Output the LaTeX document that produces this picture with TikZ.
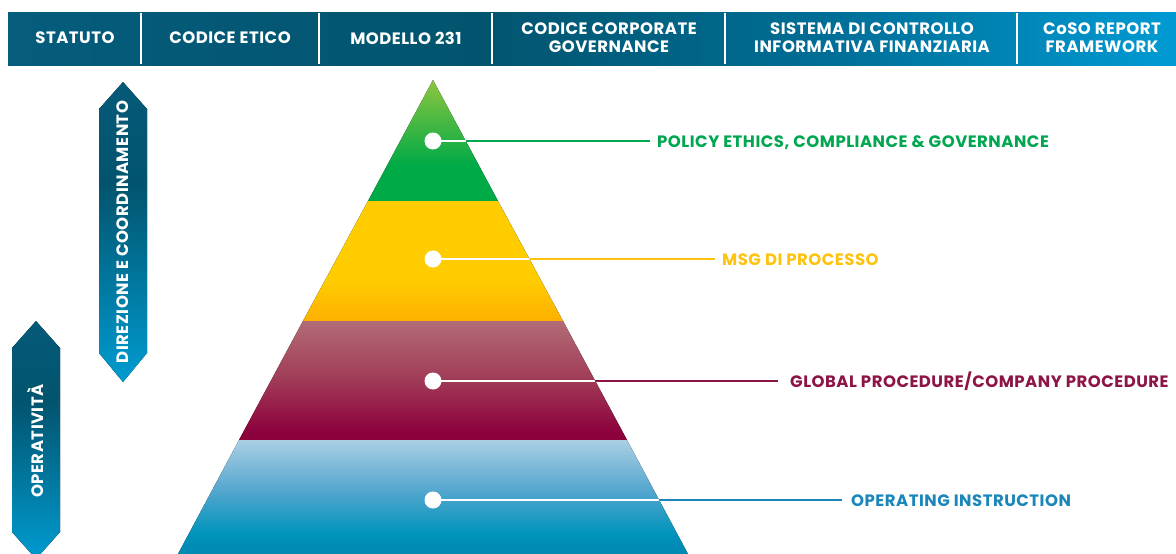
\documentclass[tikz,border=0pt]{standalone}
\usepackage{fontspec}
\setmainfont{Poppins}[LetterSpace=3]
\usetikzlibrary{positioning}

\definecolor{hdA}{RGB}{5,92,124}
\definecolor{hdB}{RGB}{2,84,110}
\definecolor{hdC}{RGB}{0,110,150}
\definecolor{hdD}{RGB}{0,155,212}
\definecolor{bnT}{RGB}{5,90,120}
\definecolor{bnM}{RGB}{2,84,110}
\definecolor{bnB}{RGB}{0,155,208}
\definecolor{grT}{RGB}{141,198,63}
\definecolor{grB}{RGB}{0,170,70}
\definecolor{yeT}{RGB}{255,204,0}
\definecolor{yeB}{RGB}{253,176,0}
\definecolor{mrT}{RGB}{178,108,118}
\definecolor{mrM}{RGB}{160,58,86}
\definecolor{mrB}{RGB}{140,0,60}
\definecolor{blT}{RGB}{170,207,227}
\definecolor{blM}{RGB}{80,165,205}
\definecolor{blB}{RGB}{0,148,188}
\definecolor{blD}{RGB}{0,138,180}
\definecolor{polgreen}{RGB}{0,166,80}
\definecolor{msgyellow}{RGB}{255,194,14}
\definecolor{procred}{RGB}{140,20,70}
\definecolor{opblue}{RGB}{26,134,186}

\pgfdeclarehorizontalshading{headbar}{100bp}{color(0bp)=(hdA); color(25bp)=(hdA); color(45bp)=(hdB); color(60bp)=(hdC); color(75bp)=(hdD); color(100bp)=(hdD)}
\pgfdeclareverticalshading{banner}{100bp}{color(0bp)=(bnB); color(25bp)=(bnB); color(58bp)=(bnM); color(75bp)=(bnT); color(100bp)=(bnT)}
\pgfdeclareverticalshading{greenband}{100bp}{color(0bp)=(grB); color(40bp)=(grB); color(75bp)=(grT); color(100bp)=(grT)}
\pgfdeclareverticalshading{yellowband}{100bp}{color(0bp)=(yeB); color(25bp)=(yeB); color(42bp)=(yeT); color(100bp)=(yeT)}
\pgfdeclareverticalshading{redband}{100bp}{color(0bp)=(mrB); color(28bp)=(mrB); color(50bp)=(mrM); color(75bp)=(mrT); color(100bp)=(mrT)}
\pgfdeclareverticalshading{blueband}{100bp}{color(0bp)=(blD); color(28bp)=(blD); color(34bp)=(blB); color(52bp)=(blM); color(75bp)=(blT); color(100bp)=(blT)}

\begin{document}
\begin{tikzpicture}[x=1pt, y=-1pt,
    hdtext/.style={text=white, font=\bfseries\fontsize{16.5}{18}\selectfont, align=center},
    bntext/.style={text=white, font=\bfseries\fontsize{16.5}{18}\selectfont, rotate=90},
    dot/.style={circle, fill=white, inner sep=0pt, minimum size=17pt},
    lvl/.style={anchor=west, font=\bfseries\fontsize{16.5}{18}\selectfont, inner xsep=0pt, text height=11.4pt, text depth=0pt},
    lead/.style={line width=1.8pt}]
  \useasboundingbox (0,0) rectangle (1176,554);
  \clip (0,0) rectangle (1176,554);

  % header
  \fill[shading=headbar] (8,12) rectangle (1180,65);
  \foreach \x in {141,319,492,725,1017}
    \draw[white, line width=2.6pt] (\x,13) -- (\x,64);
  \node[hdtext] (statuto) at (75,38) {STATUTO};
  \node[hdtext] (etico) at (230,38) {CODICE ETICO};
  \node[hdtext] (modello) at (406,38) {MODELLO 231};
  \node[hdtext] (corporate) at (609,38) {CODICE CORPORATE\\GOVERNANCE};
  \node[hdtext] (sistema) at (872,38) {SISTEMA DI CONTROLLO\\INFORMATIVA FINANZIARIA};
  \node[hdtext] (coso) at (1102,38) {CoSO REPORT\\FRAMEWORK};

  % side banners
  \fill[shading=banner] (123,82) -- (147,109) -- (147,353) -- (123,382) -- (99,353) -- (99,109) -- cycle;
  \node[bntext] (direzione) at (123,232) {DIREZIONE E COORDINAMENTO};
  \fill[shading=banner] (36,321) -- (60,348) -- (60,532) -- (36,559) -- (12,532) -- (12,348) -- cycle;
  \node[bntext] (operativita) at (36,441) {OPERATIVITÀ};

  % pyramid
  \fill[shading=greenband] (433,80) -- (498,201) -- (368,201) -- cycle;
  \fill[shading=yellowband] (368,201) -- (498,201) -- (563,321) -- (303,321) -- cycle;
  \fill[shading=redband] (303,321) -- (563,321) -- (627,440) -- (239,440) -- cycle;
  \fill[shading=blueband] (239,440) -- (627,440) -- (688,554) -- (178,554) -- cycle;

  \coordinate (p1) at (433,141);
  \coordinate (p2) at (433,259);
  \coordinate (p3) at (433,381);
  \coordinate (p4) at (433,500);

  \node[lvl, text=polgreen] (policy) at (657,142) {POLICY ETHICS, COMPLIANCE \& GOVERNANCE};
  \node[lvl, text=msgyellow] (msg) at (722,260) {MSG DI PROCESSO};
  \node[lvl, text=procred] (proc) at (790,382) {GLOBAL PROCEDURE/COMPANY PROCEDURE};
  \node[lvl, text=opblue] (instr) at (851,501) {OPERATING INSTRUCTION};

  \draw[lead, polgreen] (p1) -- ([xshift=-7pt]policy.west |- p1);
  \draw[lead, msgyellow] (p2) -- ([xshift=-7pt]msg.west |- p2);
  \draw[lead, procred] (p3) -- ([xshift=-12pt]proc.west |- p3);
  \draw[lead, opblue] (p4) -- ([xshift=-9pt]instr.west |- p4);

  \begin{scope}
    \clip (433,80) -- (688,554) -- (178,554) -- cycle;
    \foreach \p in {p1,p2,p3,p4}
      \draw[lead, white] (\p) -- ++(300,0);
  \end{scope}

  \foreach \p/\n in {p1/d1,p2/d2,p3/d3,p4/d4}
    \node[dot] (\n) at (\p) {};
\end{tikzpicture}
\end{document}
